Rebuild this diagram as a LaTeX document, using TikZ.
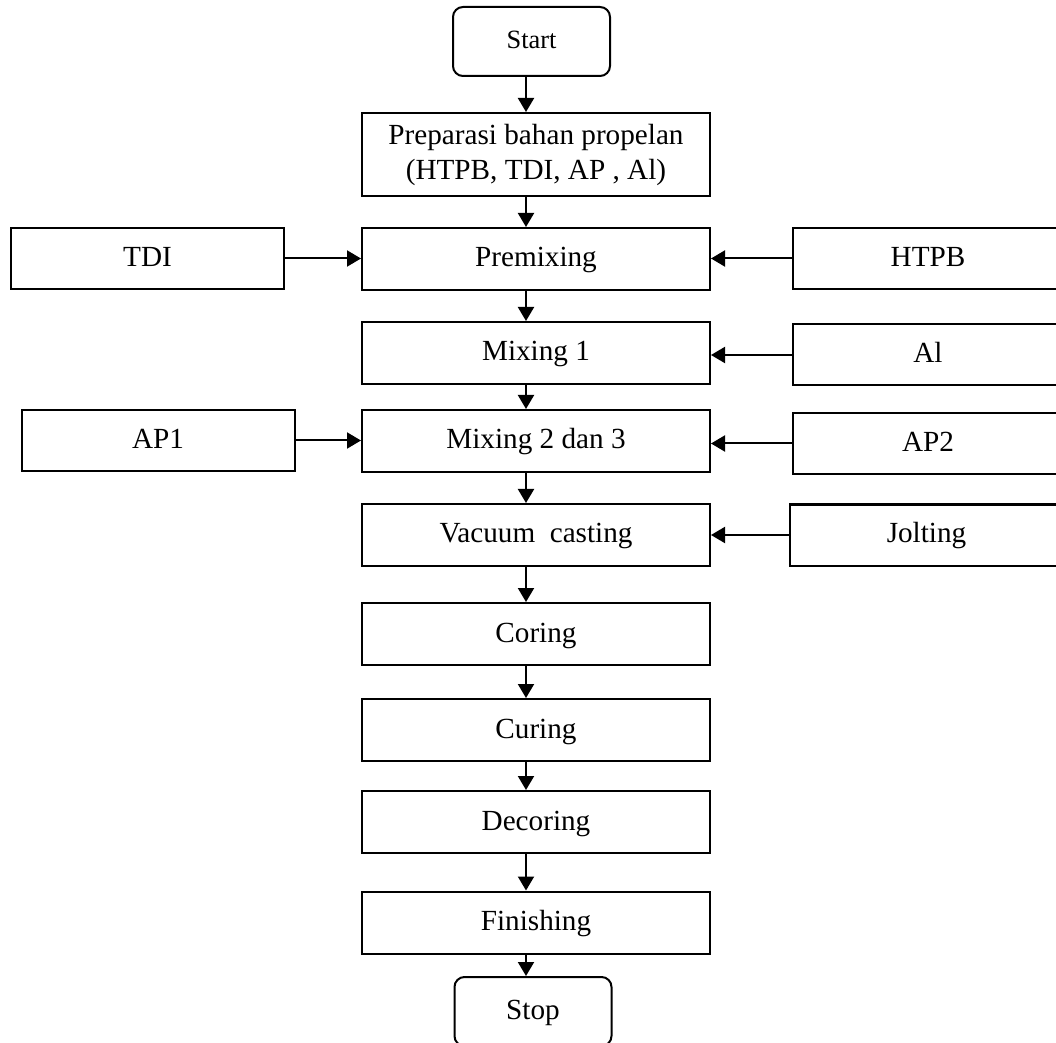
\documentclass[tikz,border=0pt]{standalone}
\usepackage{fontspec}
\setmainfont{Liberation Serif}
\usetikzlibrary{arrows.meta}
\begin{document}
\begin{tikzpicture}[x=0.5pt,y=-0.5pt,
  box/.style={draw,line width=1pt,inner sep=0pt,align=center,
    font=\fontsize{14.6}{17.5}\selectfont},
  one/.style={text height=10.2pt,text depth=2.2pt},
  mainbox/.style={box,minimum width=174pt,minimum height=31pt},
  sidebox/.style={box,one,minimum width=136.5pt,minimum height=30.5pt},
  term/.style={box,one,rounded corners=5pt,minimum width=78.5pt,minimum height=34.5pt},
  arr/.style={line width=1pt,-{Triangle[length=7pt,width=8pt]}}]
\useasboundingbox (0,0) rectangle (1056,1043);
\clip (0,0) rectangle (1056,1043);
\node[term,font=\fontsize{13.2}{16}\selectfont,text height=9.2pt,text depth=2pt] (start) at (531.5,41.5) {Start};
\node[mainbox,minimum height=41.5pt] (prep) at (536,154.5) {Preparasi bahan propelan\\(HTPB, TDI, AP , Al)};
\node[mainbox,one] (premix) at (536,259) {Premixing};
\node[mainbox,one] (mix1) at (536,353) {Mixing 1};
\node[mainbox,one] (mix2) at (536,441) {Mixing 2 dan 3};
\node[mainbox,one] (vac) at (536,535) {Vacuum\ \ casting};
\node[mainbox,one] (coring) at (536,634) {Coring};
\node[mainbox,one] (curing) at (536,730) {Curing};
\node[mainbox,one] (decoring) at (536,822) {Decoring};
\node[mainbox,one] (finish) at (536,922.5) {Finishing};
\node[term] (stop) at (533,1011.5) {Stop};
\node[sidebox] (tdi) at (147.5,258.5) {TDI};
\node[sidebox] (ap1) at (158,440.5) {AP1};
\node[sidebox,minimum width=135pt] (htpb) at (928,258.5) {HTPB};
\node[sidebox,minimum width=135pt] (al) at (928,355) {Al};
\node[sidebox,minimum width=135pt] (ap2) at (928,443.5) {AP2};
\node[sidebox,minimum width=136.5pt] (jolt) at (926.5,535) {Jolting};
\coordinate (ax) at (526,0);
\foreach \a/\b in {start/prep,prep/premix,premix/mix1,mix1/mix2,mix2/vac,vac/coring,coring/curing,curing/decoring,decoring/finish,finish/stop}
  \draw[arr] (\a.south -| ax) -- (\b.north -| ax);
\draw[arr] (tdi.east) -- (tdi.east -| premix.west);
\draw[arr] (htpb.west) -- (htpb.west -| premix.east);
\draw[arr] (al.west) -- (al.west -| mix1.east);
\draw[arr] (ap1.east) -- (ap1.east -| mix2.west);
\draw[arr] (ap2.west) -- (ap2.west -| mix2.east);
\draw[arr] (jolt.west) -- (jolt.west -| vac.east);
\end{tikzpicture}
\end{document}
